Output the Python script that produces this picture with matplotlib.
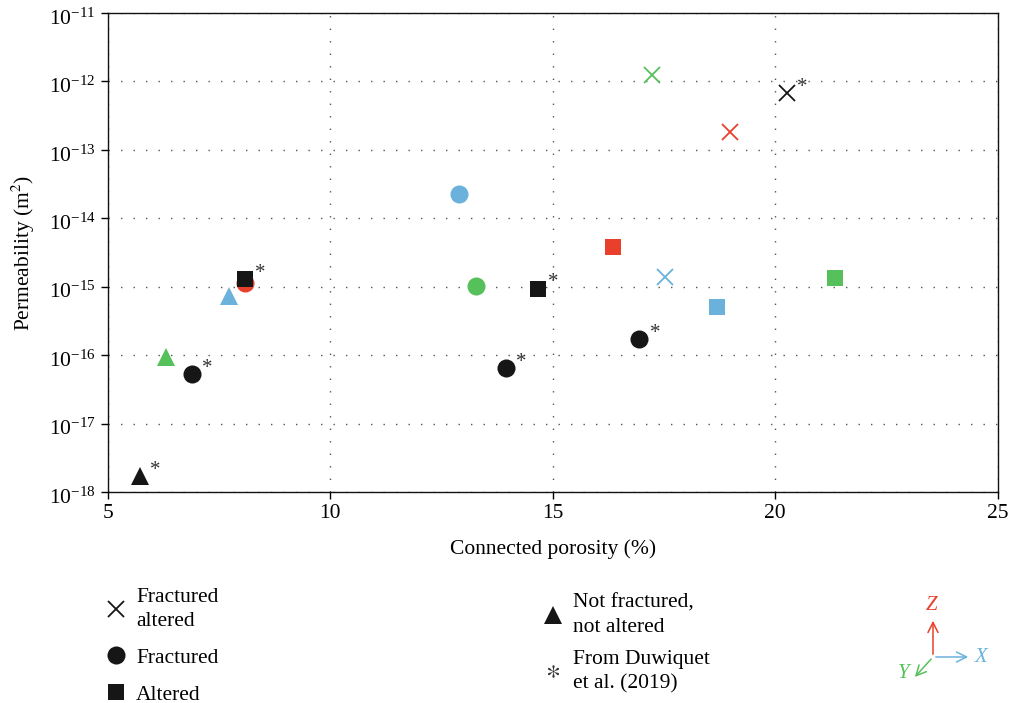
import numpy as np
import matplotlib
matplotlib.use('Agg')
import matplotlib.pyplot as plt
import matplotlib.transforms as mtransforms
from matplotlib.lines import Line2D
from matplotlib.patches import FancyArrowPatch
from matplotlib.ticker import LogFormatterSciNotation, NullLocator

plt.rcParams['font.family'] = ['Liberation Serif', 'DejaVu Serif']
plt.rcParams['mathtext.fontset'] = 'stix'

# data
porosity = [5.72, 6.30, 6.89, 7.72, 8.07, 8.07, 12.90, 13.27, 13.95,
            14.66, 16.35, 16.95, 17.23, 17.52, 18.69, 18.99, 20.27, 21.34]
permeability = [1.7e-18, 9.3e-17, 5.3e-17, 7.4e-16, 1.12e-15, 1.28e-15,
                2.26e-14, 1.03e-15, 6.45e-17, 9.4e-16, 3.77e-15, 1.74e-16,
                1.24e-12, 1.40e-15, 5.0e-16, 1.81e-13, 6.86e-13, 1.32e-15]
# sample state: FA fractured+altered, F fractured, A altered, N neither
state = ['N', 'N', 'F', 'N', 'F', 'A', 'F', 'F', 'F',
         'A', 'A', 'F', 'FA', 'FA', 'A', 'FA', 'FA', 'A']
# orientation of the core (X, Y, Z) or D = Duwiquet et al. data
orient = ['D', 'Y', 'D', 'X', 'Z', 'D', 'X', 'Y', 'D',
          'D', 'Z', 'D', 'Y', 'X', 'X', 'Z', 'D', 'Y']

xticks = [5, 10, 15, 20, 25]
yticks = [1e-18, 1e-17, 1e-16, 1e-15, 1e-14, 1e-13, 1e-12, 1e-11]

state_labels = {'FA': 'Fractured\naltered', 'F': 'Fractured', 'A': 'Altered',
                'N': 'Not fractured,\nnot altered'}

# styles
markers = {'FA': 'x', 'F': 'o', 'A': 's', 'N': '^'}
msizes = {'FA': 11, 'F': 13, 'A': 12, 'N': 12.5}
colors = {'X': '#6AB2DC', 'Y': '#56C15A', 'Z': '#E8402A', 'D': '#161616'}
FS = 15.5

W, H = 1011, 703
fig = plt.figure(figsize=(W / 100, H / 100), dpi=100)
ax = fig.add_axes([108 / W, 1 - 492 / H, (997.5 - 108) / W, (492 - 13) / H])

for x, y, s, o in zip(porosity, permeability, state, orient):
    if s == 'FA':
        ax.plot(x, y, marker='x', ms=msizes[s], mew=1.3, color=colors[o],
                ls='none', zorder=3)
    else:
        ax.plot(x, y, marker=markers[s], ms=msizes[s], mew=0, color=colors[o],
                ls='none', zorder=3)
    if o == 'D':
        ax.annotate('*', (x, y), xytext=(11, 4), textcoords='offset points',
                    ha='center', va='center', fontsize=15, color='#333333')

ax.set_yscale('log')
ax.set_xlim(5, 25)
ax.set_ylim(1e-18, 1e-11)
ax.set_xticks(xticks)
ax.set_yticks(yticks)
ax.yaxis.set_major_formatter(LogFormatterSciNotation())
ax.yaxis.set_minor_locator(NullLocator())
ax.tick_params(direction='out', length=5, width=1, labelsize=FS,
               top=False, right=False)
ax.tick_params(axis='y', pad=4)
for sp in ax.spines.values():
    sp.set_linewidth(1.0)
    sp.set_color('#111111')
ax.grid(True, which='major', color='#555555', ls=(0, (1, 8)), lw=1.0)
ax.set_axisbelow(True)

ax.set_xlabel('Connected porosity (%)', fontsize=FS, labelpad=12)
ax.set_ylabel('Permeability (m$^2$)', fontsize=FS, labelpad=8)

# nudge y tick labels down a little so the top one stays inside
fig.canvas.draw()
shift = mtransforms.ScaledTranslation(0, -2.5 / 72, fig.dpi_scale_trans)
for tk in ax.yaxis.get_major_ticks():
    tk.label1.set_transform(tk.label1.get_transform() + shift)

# legends
def handle(s):
    if s == 'FA':
        return Line2D([], [], marker='x', ms=msizes[s], mew=1.3, color='#161616', ls='none')
    return Line2D([], [], marker=markers[s], ms=msizes[s], mew=0, color='#161616', ls='none')

col1 = ['FA', 'F', 'A']
leg1 = fig.legend([handle(s) for s in col1], [state_labels[s] for s in col1],
                  loc='upper left', bbox_to_anchor=(105 / W, 1 - 588 / H),
                  frameon=False, fontsize=FS, handlelength=1.0,
                  handletextpad=0.45, labelspacing=0.78, borderpad=0,
                  borderaxespad=0)
h_dw = Line2D([], [], marker='$*$', ms=9, mew=0, color='#333333', ls='none')
leg2 = fig.legend([handle('N'), h_dw], [state_labels['N'], 'From Duwiquet\net al. (2019)'],
                  loc='upper left', bbox_to_anchor=(542 / W, 1 - 594 / H),
                  frameon=False, fontsize=FS, handlelength=1.0,
                  handletextpad=0.45, labelspacing=0.6, borderpad=0,
                  borderaxespad=0)
for leg in (leg1, leg2):
    for t in leg.get_texts():
        t.set_linespacing(1.35)

# orientation glyph
def px(x, y):
    return (x / W, 1 - y / H)

origin = px(933, 657)
for tip, lab, lpos, c in [((933, 618), 'Z', (932, 606), colors['Z']),
                          ((971, 657), 'X', (981, 658), colors['X']),
                          ((913, 679), 'Y', (904, 674), colors['Y'])]:
    fig.add_artist(FancyArrowPatch(
        origin, px(*tip), transform=fig.transFigure, arrowstyle='->',
        mutation_scale=18, color=c, lw=1.1))
    fig.text(*px(*lpos), lab, color=c, fontsize=15, style='italic',
             ha='center', va='center')

fig.savefig('out.png', dpi=100)
